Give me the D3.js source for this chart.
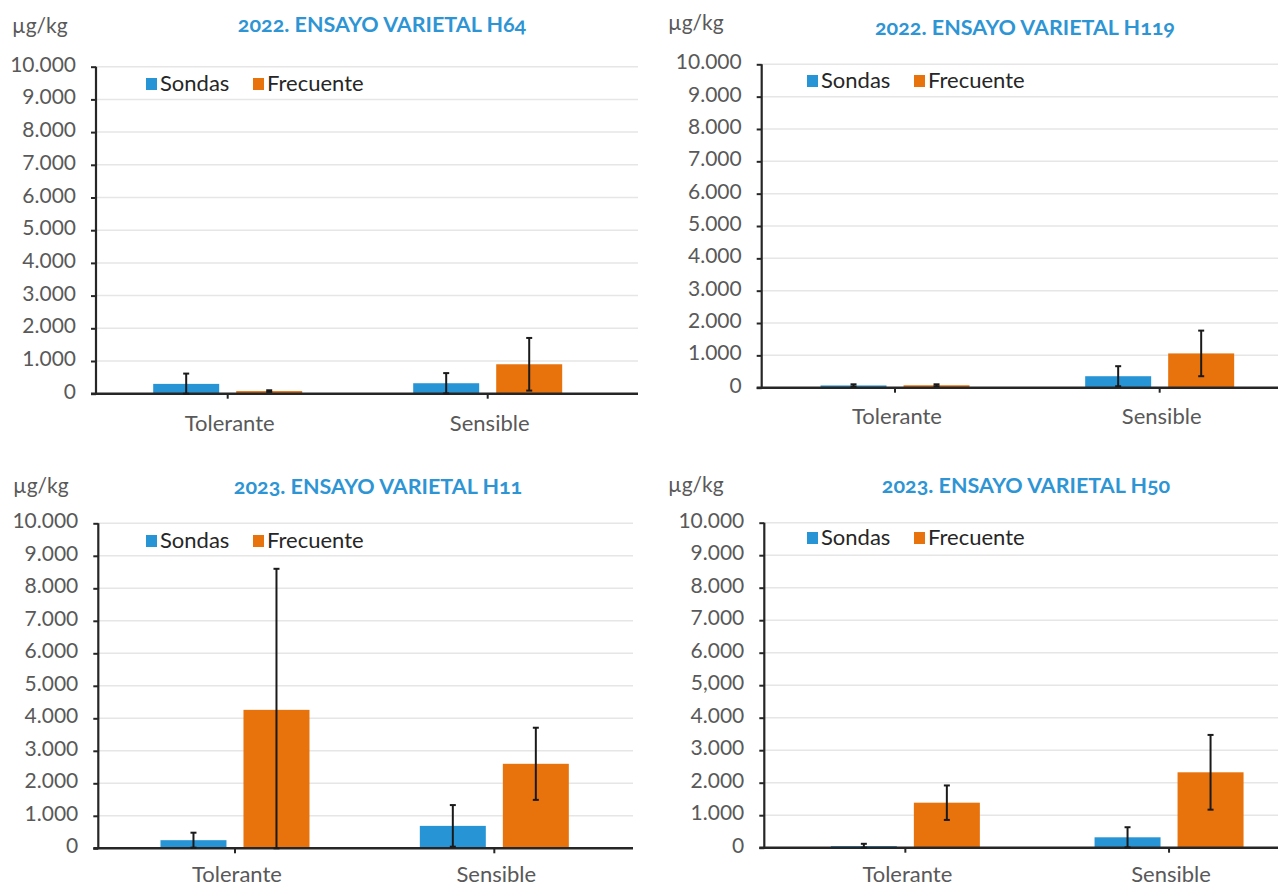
<!DOCTYPE html>
<html>
<head>
<meta charset="utf-8">
<script src="https://cdn.jsdelivr.net/npm/d3@7"></script>
<style>
  html, body { margin: 0; padding: 0; background: #fff; }
  svg { display: block; font-family: Lato, "Open Sans", sans-serif; }
</style>
</head>
<body>
<div id="chart"></div>
<script>
// Data
const categories = ["Tolerante", "Sensible"]
const series = ["Sondas", "Frecuente"]
const colors = ["#2795D5", "#E8720C"]

const yTicks = [0, 1000, 2000, 3000, 4000, 5000, 6000, 7000, 8000, 9000, 10000]
const yTickLabels = ["0", "1.000", "2.000", "3.000", "4.000", "5.000", "6.000", "7.000", "8.000", "9.000", "10.000"]
const yTickLabelsH50 = ["0", "1.000", "2.000", "3.000", "4.000", "5,000", "6.000", "7.000", "8.000", "9.000", "10.000"]

const titles = ["2022. ENSAYO VARIETAL H64", "2022. ENSAYO VARIETAL H119", "2023. ENSAYO VARIETAL H11", "2023. ENSAYO VARIETAL H50"]

// mean and error per category, [Tolerante, Sensible]
const h64Sondas = [300, 320],   h64SondasErr = [315, 310]
const h64Frec = [80, 900],      h64FrecErr = [25, 805]
const h119Sondas = [70, 355],   h119SondasErr = [35, 310]
const h119Frec = [75, 1060],    h119FrecErr = [30, 705]
const h11Sondas = [250, 690],   h11SondasErr = [230, 640]
const h11Frec = [4260, 2600],   h11FrecErr = [4340, 1110]
const h50Sondas = [50, 320],    h50SondasErr = [70, 310]
const h50Frec = [1385, 2320],   h50FrecErr = [530, 1150]

// Layout of the four panels
const panels = [
  { title: titles[0], vals: [h64Sondas, h64Frec], errs: [h64SondasErr, h64FrecErr], labels: yTickLabels,
    axisX: 96, right: 638, zero: 393.7, top: 66.7, band: [97.7, 617.7],
    titleX: 382, titleY: 32, unitX: 12, unitY: 33, legX: 146, legY: 91, catY: 431 },
  { title: titles[1], vals: [h119Sondas, h119Frec], errs: [h119SondasErr, h119FrecErr], labels: yTickLabels,
    axisX: 761.7, right: 1278, zero: 387.7, top: 64.3, band: [762.7, 1292],
    titleX: 1025, titleY: 35, unitX: 668, unitY: 30, legX: 807, legY: 88, catY: 424 },
  { title: titles[2], vals: [h11Sondas, h11Frec], errs: [h11SondasErr, h11FrecErr], labels: yTickLabels,
    axisX: 98.3, right: 633, zero: 848.3, top: 523.3, band: [105.3, 624],
    titleX: 378, titleY: 494, unitX: 13, unitY: 493, legX: 146, legY: 548, catY: 882 },
  { title: titles[3], vals: [h50Sondas, h50Frec], errs: [h50SondasErr, h50FrecErr], labels: yTickLabelsH50,
    axisX: 764.3, right: 1278, zero: 847.7, top: 522.7, band: [773.5, 1300.9],
    titleX: 1026, titleY: 493, unitX: 668, unitY: 492, legX: 807, legY: 545, catY: 882 },
]

const width = 1278, height = 887

const svg = d3.select("#chart")
  .append("svg")
  .attr("width", width)
  .attr("height", height)

panels.forEach(p => drawPanel(p))

function drawPanel(p) {
  const g = svg.append("g")

  const y = d3.scaleLinear().domain([0, 10000]).range([p.zero, p.top])
  const x0 = d3.scaleBand().domain(categories).range(p.band)
  const x1 = d3.scaleBand().domain(series).range([-74.5, 74.5]).paddingInner(0.205)
  const cx = c => x0(c) + x0.bandwidth() / 2

  // gridlines
  g.append("g")
    .selectAll("line")
    .data(yTicks.slice(1))
    .join("line")
    .attr("x1", p.axisX)
    .attr("x2", p.right)
    .attr("y1", d => y(d))
    .attr("y2", d => y(d))
    .attr("stroke", "#e6e6e6")
    .attr("stroke-width", 1.5)

  // y axis
  const yAxis = g.append("g")
    .attr("transform", `translate(${p.axisX},0)`)
    .call(d3.axisLeft(y).tickValues(yTicks).tickSize(5).tickFormat(""))
  yAxis.select(".domain").attr("stroke", "#262626").attr("stroke-width", 2.2)
    .attr("d", `M0,${y(10000)}V${y(0)}`)
  yAxis.selectAll(".tick line").attr("stroke", "#262626").attr("stroke-width", 2)

  g.append("g")
    .selectAll("text")
    .data(yTicks)
    .join("text")
    .attr("x", p.axisX - 20)
    .attr("y", d => y(d) + 5)
    .attr("text-anchor", "end")
    .attr("font-size", 21)
    .attr("fill", "#595959")
    .text((d, i) => p.labels[i])

  // bars
  series.forEach((s, si) => {
    g.append("g")
      .selectAll("rect")
      .data(categories)
      .join("rect")
      .attr("x", c => cx(c) + x1(s))
      .attr("width", x1.bandwidth())
      .attr("y", (c, ci) => y(p.vals[si][ci]))
      .attr("height", (c, ci) => y(0) - y(p.vals[si][ci]))
      .attr("fill", colors[si])
  })

  // x axis
  const xAxis = g.append("g")
    .attr("transform", `translate(0,${y(0)})`)
  xAxis.append("line")
    .attr("x1", p.axisX - 5)
    .attr("x2", p.right)
    .attr("stroke", "#262626")
    .attr("stroke-width", 2.5)
  xAxis.selectAll(".ctick")
    .data(categories)
    .join("line")
    .attr("class", "ctick")
    .attr("x1", c => cx(c))
    .attr("x2", c => cx(c))
    .attr("y1", 0)
    .attr("y2", 5)
    .attr("stroke", "#262626")
    .attr("stroke-width", 2)

  g.append("g")
    .selectAll("text")
    .data(categories)
    .join("text")
    .attr("x", c => cx(c) + 2)
    .attr("y", p.catY)
    .attr("text-anchor", "middle")
    .attr("font-size", 22)
    .attr("fill", "#595959")
    .text(c => c)

  // error bars
  series.forEach((s, si) => {
    const eg = g.append("g")
      .attr("stroke", "#1a1a1a")
      .attr("stroke-width", 2)
    categories.forEach((c, ci) => {
      const v = p.vals[si][ci], e = p.errs[si][ci]
      const ex = cx(c) + x1(s) + x1.bandwidth() / 2
      const hi = y(v + e), lo = y(Math.max(0, v - e))
      eg.append("line").attr("x1", ex).attr("x2", ex).attr("y1", hi).attr("y2", lo)
      eg.append("line").attr("x1", ex - 3).attr("x2", ex + 3).attr("y1", hi).attr("y2", hi)
      eg.append("line").attr("x1", ex - 3).attr("x2", ex + 3).attr("y1", lo).attr("y2", lo)
    })
  })

  // title and unit
  g.append("text")
    .attr("x", p.titleX)
    .attr("y", p.titleY)
    .attr("text-anchor", "middle")
    .attr("font-size", 21.5)
    .attr("font-weight", "bold")
    .attr("fill", "#2E95D5")
    .style("font-feature-settings", "'onum' 1")
    .text(p.title)

  g.append("text")
    .attr("x", p.unitX)
    .attr("y", p.unitY)
    .attr("font-size", 21)
    .attr("fill", "#595959")
    .text("µg/kg")

  // legend
  const leg = g.append("g")
    .selectAll("g")
    .data(series)
    .join("g")
    .attr("transform", (d, i) => `translate(${p.legX + i * 107},${p.legY})`)
  leg.append("rect")
    .attr("x", 0)
    .attr("y", -13)
    .attr("width", 11)
    .attr("height", 12)
    .attr("fill", (d, i) => colors[i])
  leg.append("text")
    .attr("x", 14)
    .attr("y", 0)
    .attr("font-size", 22)
    .attr("fill", "#262626")
    .text(d => d)
}
</script>
</body>
</html>
